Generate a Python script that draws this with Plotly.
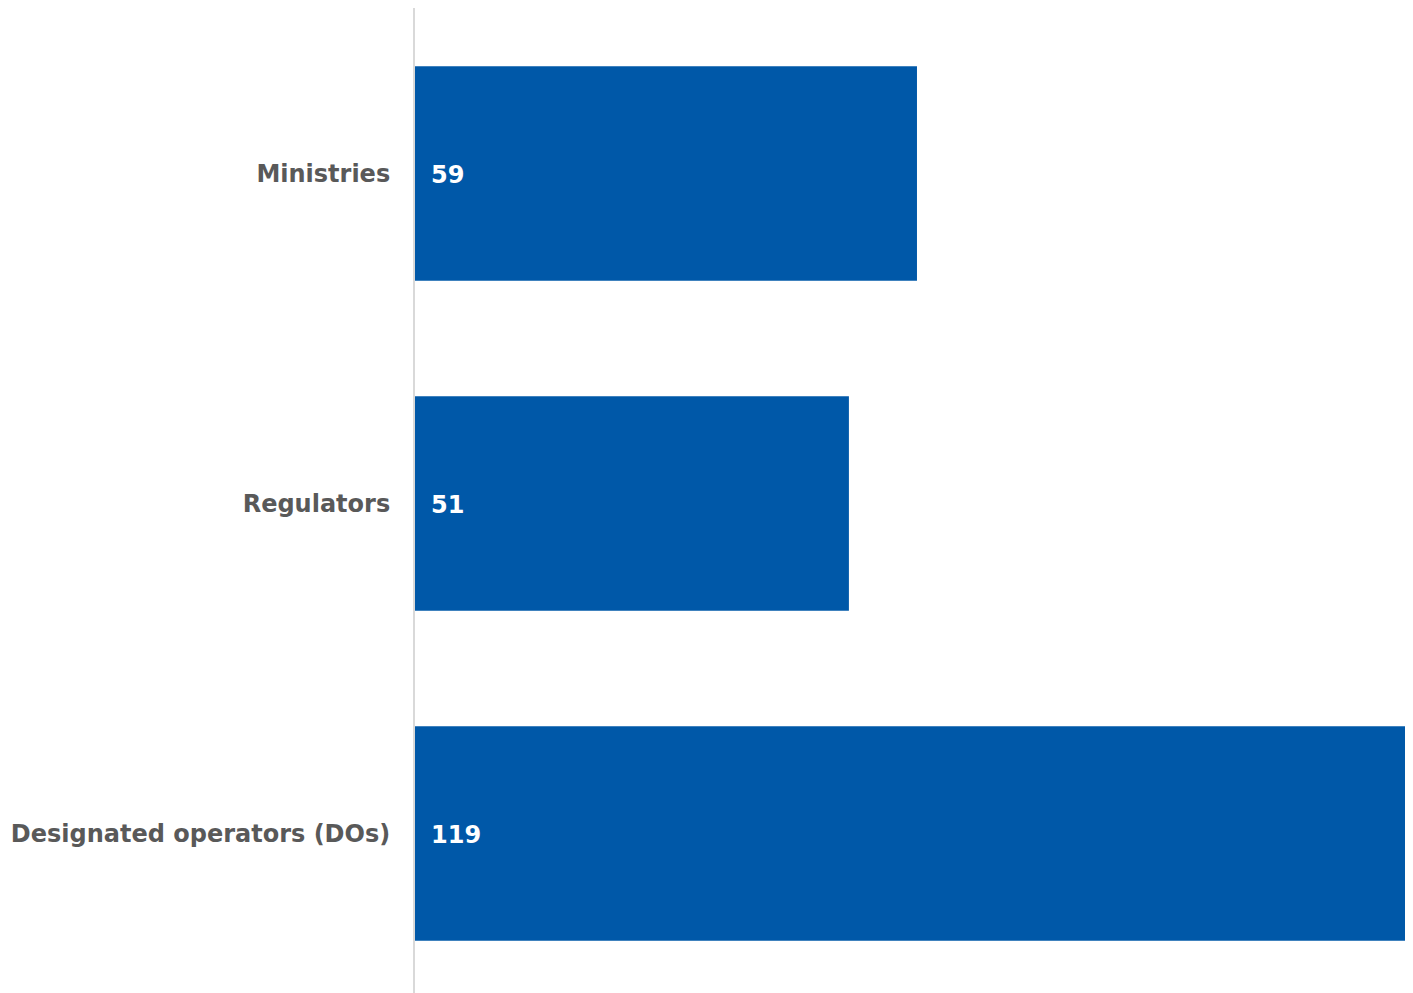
import plotly.graph_objects as go

categories = ["Ministries", "Regulators", "Designated operators (DOs)"]
values = [59, 51, 119]
value_labels = ["59", "51", "119"]

BAR_COLOR = "#0058A8"
FONT = "Verdana, DejaVu Sans, sans-serif"

fig = go.Figure()
fig.add_trace(go.Bar(
    y=categories,
    x=values,
    orientation="h",
    width=0.65,
    marker=dict(color=BAR_COLOR, line=dict(width=0)),
    hoverinfo="x+y",
))

for cat, lab in zip(categories, value_labels):
    fig.add_annotation(
        x=0, y=cat, text=f"<b>{lab}</b>", showarrow=False,
        xanchor="left", xshift=14, yshift=-1,
        font=dict(family=FONT, size=24, color="white"),
    )

fig.update_layout(
    width=1405, height=985,
    margin=dict(l=407, r=0, t=0, b=0),
    plot_bgcolor="white", paper_bgcolor="white",
    showlegend=False,
    xaxis=dict(range=[0, 117.3], visible=False, showgrid=False, zeroline=False),
    yaxis=dict(
        type="category",
        range=[2.483, -0.5015],
        showgrid=False, zeroline=False,
        showline=True, linecolor="#D9D9D9", linewidth=2,
        ticks="", ticklabelstandoff=18,
        tickfont=dict(family=FONT, size=24, color="#595959", weight="bold"),
    ),
)

fig.write_html("out.html")
